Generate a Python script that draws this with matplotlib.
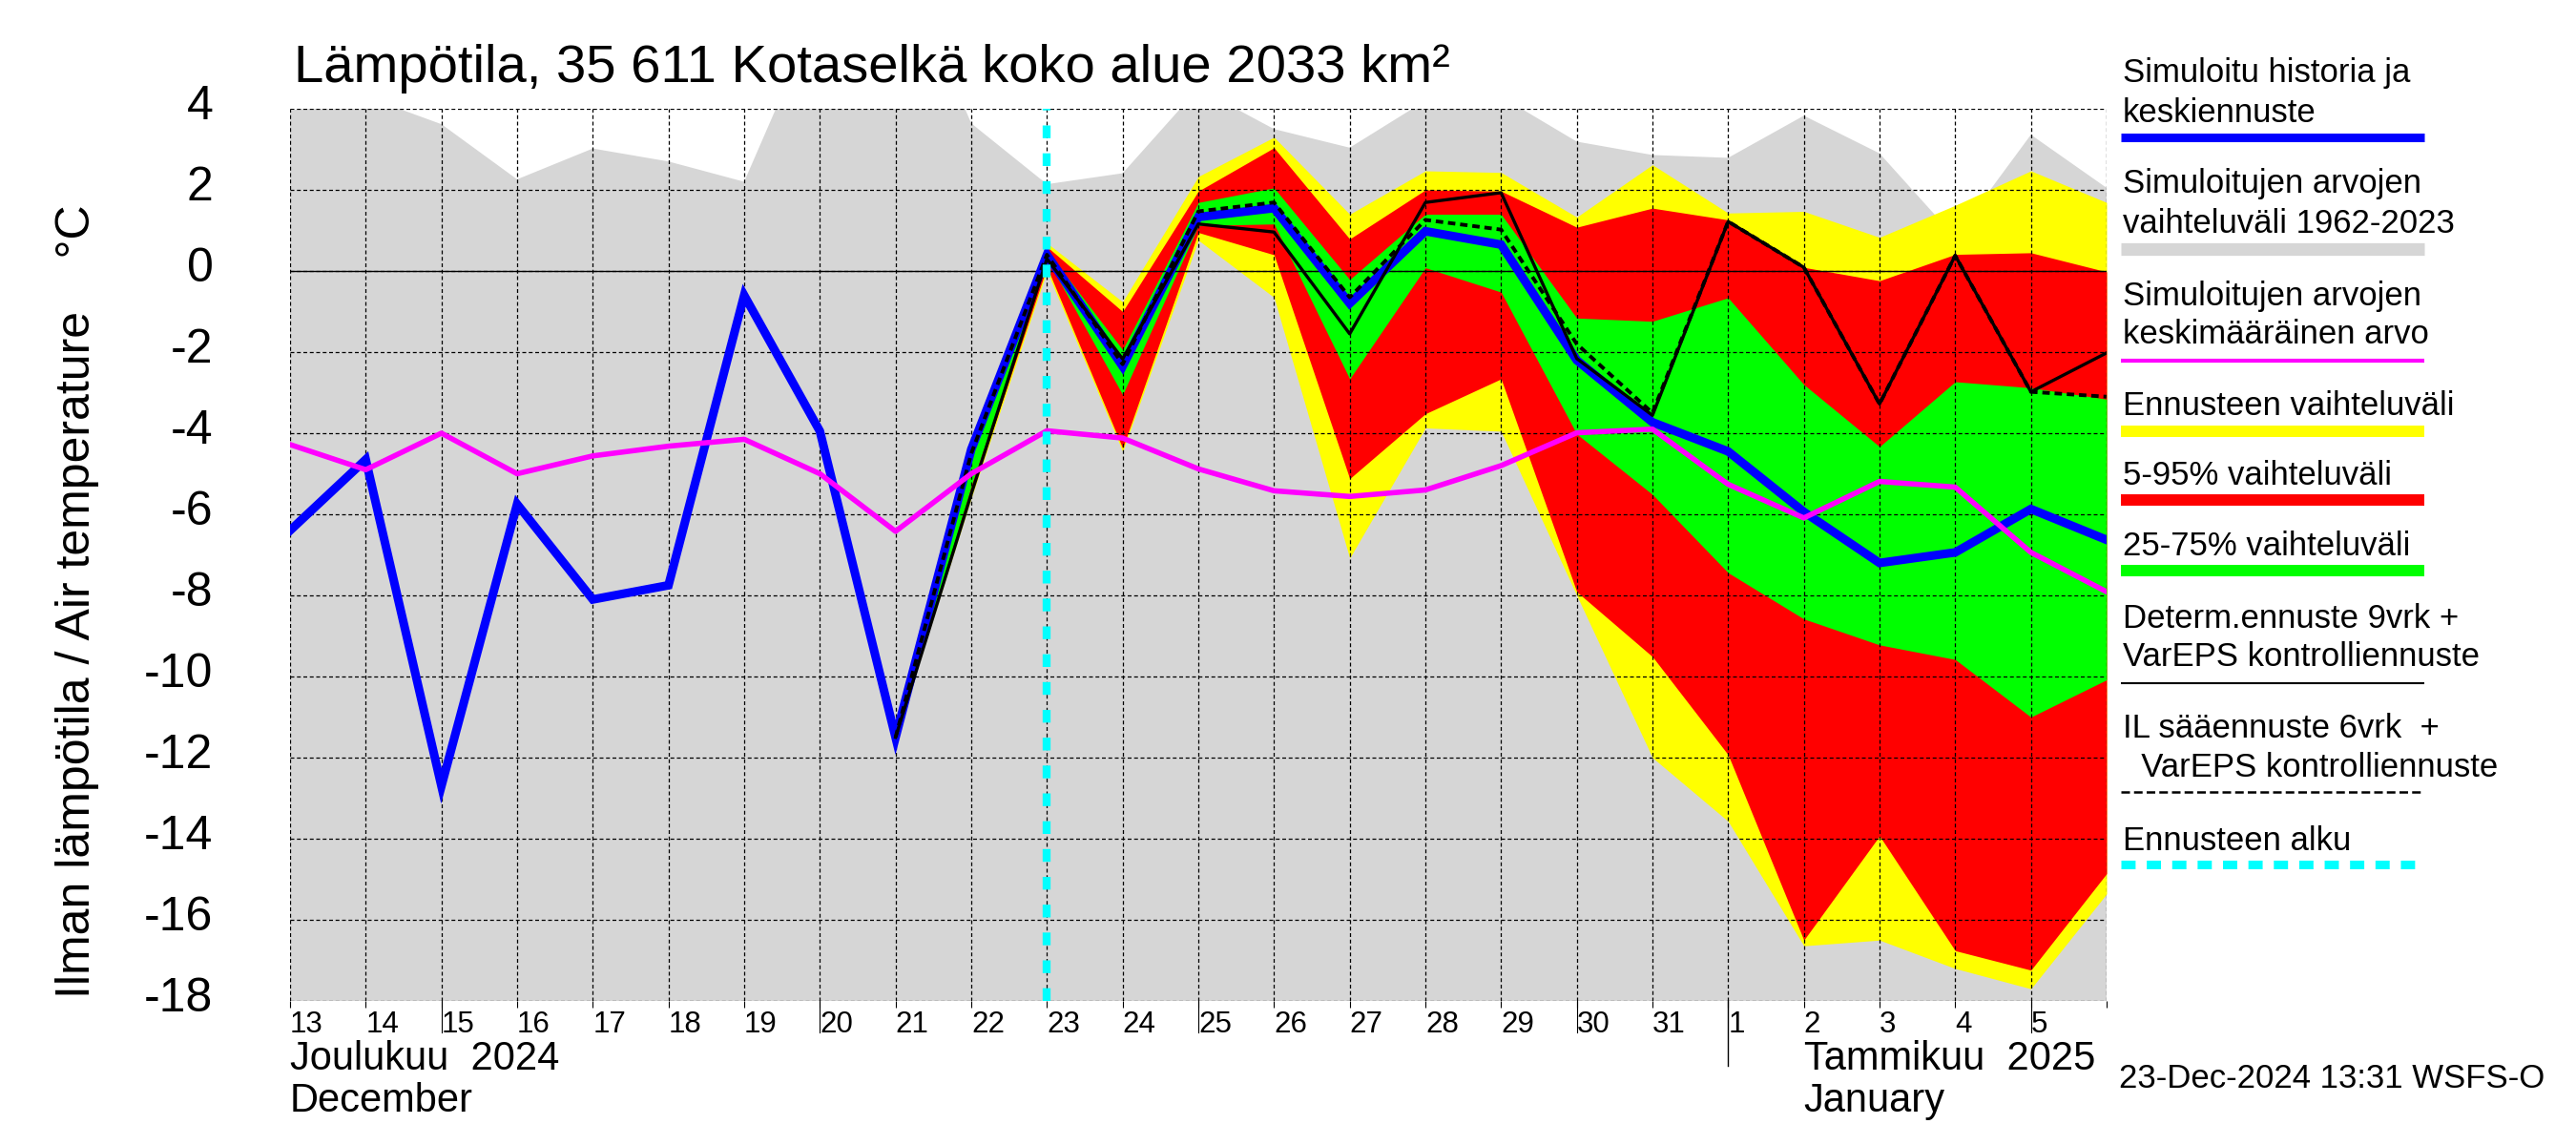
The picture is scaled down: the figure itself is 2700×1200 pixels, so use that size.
import numpy as np
import matplotlib
matplotlib.use('Agg')
import matplotlib.pyplot as plt
from matplotlib.lines import Line2D
from matplotlib.transforms import ScaledTranslation, blended_transform_factory

plt.rcParams['font.family'] = ['Liberation Sans', 'DejaVu Sans']
plt.rcParams['axes.unicode_minus'] = False

# ---------------- data ----------------
day_labels = ['13', '14', '15', '16', '17', '18', '19', '20', '21', '22', '23', '24',
              '25', '26', '27', '28', '29', '30', '31', '1', '2', '3', '4', '5', '6']
days = np.arange(len(day_labels))          # 13 Dec 2024 ... 6 Jan 2025 (00:00)
forecast_start = 10                        # 23 Dec

# simulated history + mean forecast (blue)
blue = [-6.4, -4.65, -12.7, -5.75, -8.1, -7.75, -0.6, -3.95, -11.5, -4.4, 0.4,
        -2.35, 1.33, 1.55, -0.8, 0.98, 0.65, -2.2, -3.73, -4.45, -5.94, -7.2, -6.94, -5.87, -6.63]
# mean of simulated values 1962-2023 (magenta)
magenta = [-4.28, -4.9, -4.0, -5.0, -4.56, -4.32, -4.15, -5.0, -6.42, -5.0, -3.94,
           -4.12, -4.88, -5.42, -5.56, -5.4, -4.8, -3.99, -3.9, -5.26, -6.09, -5.19, -5.33, -6.94, -7.91]
# upper edge of range of simulated values 1962-2023 (grey)
gray_hi = [3.95, 4.3, 3.62, 2.26, 3.02, 2.7, 2.2, 6.5, 8.0, 3.64, 2.14,
           2.41, 4.5, 3.5, 3.04, 4.2, 4.3, 3.19, 2.86, 2.79, 3.83, 2.9, 0.83, 3.36, 2.05]

# ensemble bands, from 21 Dec onward
band_days = days[8:]
yellow_hi = [-11.5, -4.3, 0.69, -0.76, 2.33, 3.3, 1.40, 2.47, 2.43, 1.33, 2.62, 1.43, 1.47, 0.83, 1.62, 2.47, 1.69]
red_hi    = [-11.5, -4.35, 0.6, -1.0, 1.97, 3.04, 0.79, 2.0, 1.97, 1.08, 1.55, 1.26, 0.09, -0.24, 0.41, 0.45, -0.02]
green_hi  = [-11.5, -4.5, 0.5, -1.94, 1.69, 2.05, -0.21, 1.4, 1.4, -1.16, -1.24, -0.66, -2.8, -4.33, -2.73, -2.88, -3.16]
green_lo  = [-11.5, -5.3, 0.3, -3.05, 1.12, 1.16, -2.66, 0.08, -0.52, -4.02, -5.51, -7.44, -8.58, -9.22, -9.58, -11.0, -10.08]
red_lo    = [-11.5, -5.5, 0.1, -4.37, 0.95, 0.4, -5.12, -3.52, -2.66, -7.91, -9.51, -11.93, -16.5, -13.93, -16.76, -17.24, -14.86]
yellow_lo = [-11.5, -5.6, 0.0, -4.45, 0.76, -0.65, -7.08, -3.87, -3.95, -8.0, -12.0, -13.57, -16.64, -16.5, -17.2, -17.7, -15.36]

determ = [-11.5, -5.5, 0.3, -2.17, 1.16, 0.96, -1.55, 1.69, 1.93, -2.16, -3.56, 1.22, 0.09, -3.28, 0.38, -2.98, -2.02]
il_fc  = [-11.5, -4.5, 0.4, -2.3, 1.47, 1.69, -0.65, 1.26, 1.02, -1.8, -3.5, 1.22, 0.09, -3.28, 0.38, -2.98, -3.1]

y_ticks = list(range(-18, 5, 2))

title = 'Lämpötila, 35 611 Kotaselkä koko alue 2033 km²'
ylabel = 'Ilman lämpötila / Air temperature    °C'
legend_items = [
    (['Simuloitu historia ja', 'keskiennuste'], dict(color='#0000ff', lw=6.5)),
    (['Simuloitujen arvojen', 'vaihteluväli 1962-2023'], dict(color='#d6d6d6', lw=9.5)),
    (['Simuloitujen arvojen', 'keskimääräinen arvo'], dict(color='#ff00ff', lw=3)),
    (['Ennusteen vaihteluväli'], dict(color='#ffff00', lw=8.6)),
    (['5-95% vaihteluväli'], dict(color='#ff0000', lw=8.6)),
    (['25-75% vaihteluväli'], dict(color='#00ff00', lw=8.6)),
    (['Determ.ennuste 9vrk +', 'VarEPS kontrolliennuste'], dict(color='black', lw=1.5)),
    (['IL sääennuste 6vrk  +', '  VarEPS kontrolliennuste'], dict(color='black', lw=1.8, linestyle=(0, (3.6, 1.7)))),
    (['Ennusteen alku'], dict(color='#00ffff', lw=6.5, linestyle=(0, (1.65, 1.3)))),
]

# ---------------- figure ----------------
fig = plt.figure(figsize=(27, 12), dpi=100)
ax = fig.add_axes([304 / 2700, 1 - 1049 / 1200, (2208 - 304) / 2700, (1049 - 114) / 1200])
ax.set_xlim(days[0], days[-1])
ax.set_ylim(y_ticks[0], y_ticks[-1])

# grey historical range
ax.fill_between(days, gray_hi, y_ticks[0] - 5, color='#d6d6d6', lw=0, zorder=1)
# ensemble bands
ax.fill_between(band_days, yellow_lo, yellow_hi, color='#ffff00', lw=0, zorder=1.1)
ax.fill_between(band_days, red_lo, red_hi, color='#ff0000', lw=0, zorder=1.2)
ax.fill_between(band_days, green_lo, green_hi, color='#00ff00', lw=0, zorder=1.3)

# grid
ax.set_xticks(days)
ax.set_yticks(y_ticks)
ax.grid(True, color='black', linestyle=(0, (3.2, 2.2)), linewidth=0.9, zorder=2)
ax.set_axisbelow(False)
for g in ax.get_xgridlines() + ax.get_ygridlines():
    g.set_zorder(2)
ax.axhline(0, color='black', lw=1.0, zorder=2.1)
for s in ax.spines.values():
    s.set_visible(False)

# lines
ax.plot(days, blue, color='#0000ff', lw=6.5, solid_joinstyle='miter', zorder=3)
ax.plot(band_days, determ, color='black', lw=2.4, zorder=4)
ax.plot(band_days, il_fc, color='black', lw=2.8, linestyle=(0, (2.0, 1.3)), zorder=4.1)
ax.plot(days, magenta, color='#ff00ff', lw=4, zorder=5)
ax.axvline(days[forecast_start], color='#00ffff', lw=6, linestyle=(0, (1.6, 1.9)), zorder=10)

# x ticks
ax.set_xticklabels(day_labels[:-1] + [''], ha='left')
ax.tick_params(axis='x', direction='out', length=5, width=0.8, pad=2, labelsize=22.5, color='black')
ax.tick_params(axis='y', length=0, pad=58, labelsize=36)
for lab in ax.get_yticklabels():
    lab.set_transform(lab.get_transform() + ScaledTranslation(0, 7 / 100, fig.dpi_scale_trans))

xtr = ax.get_xaxis_transform()
for d, lab in zip(days[:-1], day_labels[:-1]):
    if lab == '1':
        ax.plot([d, d], [0, -0.0727], transform=xtr, color='black', lw=1.0, clip_on=False)
    elif int(lab) % 5 == 0:
        ax.plot([d, d], [0, -0.0353], transform=xtr, color='black', lw=0.8, clip_on=False)

mtr = blended_transform_factory(ax.transData, fig.transFigure)
jan_start = day_labels.index('1')
ax.text(days[0], 1 - 1121 / 1200, 'Joulukuu  2024', transform=mtr, fontsize=30, ha='left', va='baseline')
ax.text(days[0], 1 - 1165 / 1200, 'December', transform=mtr, fontsize=30, ha='left', va='baseline')
ax.text(days[jan_start + 1], 1 - 1121 / 1200, 'Tammikuu  2025', transform=mtr, fontsize=30, ha='left', va='baseline')
ax.text(days[jan_start + 1], 1 - 1165 / 1200, 'January', transform=mtr, fontsize=30, ha='left', va='baseline')

# title, axis label, stamp
fig.text(308 / 2700, 1 - 86 / 1200, title, fontsize=40.5, ha='left', va='baseline')
fig.text(81 / 2700, 1 - 630 / 1200, ylabel, fontsize=36, rotation=90, ha='center', va='center')
fig.text(2221 / 2700, 1 - 1140 / 1200, '23-Dec-2024 13:31 WSFS-O', fontsize=25, ha='left', va='baseline')

# legend
baselines = [[86, 127.6], [202, 243.6], [320, 360], [435], [508], [582], [658, 698], [773, 814.4], [891]]
line_y = [143.5, 261, 377.6, 451.5, 524, 598, 715.6, 830, 905.6]
for (texts, style), bls, ly in zip(legend_items, baselines, line_y):
    for t, b in zip(texts, bls):
        fig.text(2225 / 2700, 1 - b / 1200, t, fontsize=25, ha='left', va='baseline')
    fig.add_artist(Line2D([2223 / 2700, 2541 / 2700], [1 - ly / 1200] * 2, transform=fig.transFigure,
                          solid_capstyle='butt', dash_capstyle='butt', **style))

fig.savefig('out.png', dpi=100)
